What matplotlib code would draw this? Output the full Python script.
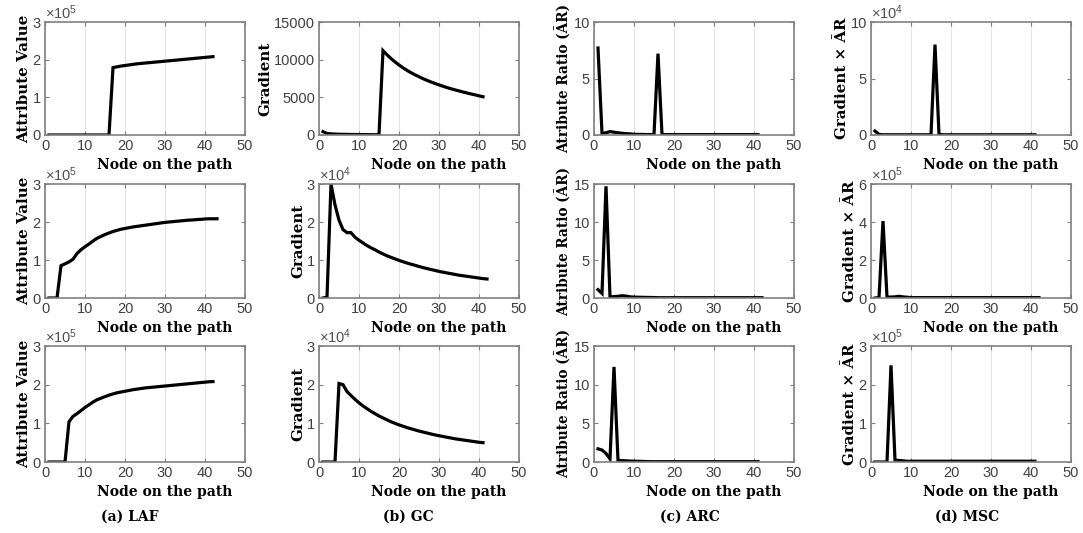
import numpy as np
import matplotlib.pyplot as plt

plt.rcParams['font.family'] = ['Liberation Sans', 'DejaVu Sans']
plt.rcParams['mathtext.fontset'] = 'custom'
plt.rcParams['mathtext.rm'] = 'Liberation Sans'
plt.rcParams['mathtext.it'] = 'Liberation Sans:italic'

# values, in the units shown on each y axis
# row 1
laf_1 = [0.0] * 16 + [1.79, 1.81, 1.83, 1.845, 1.86, 1.875, 1.89, 1.90, 1.91,
                      1.92, 1.93, 1.94, 1.95, 1.96, 1.97, 1.98, 1.99, 2.0,
                      2.01, 2.02, 2.03, 2.04, 2.05, 2.06, 2.07, 2.08]
gc_1 = [450, 200, 150, 120, 100, 90, 80, 70, 60, 55, 50, 45, 40, 35, 30,
        11200, 10650, 10150, 9700, 9300, 8920, 8580, 8270, 7990, 7730, 7480,
        7250, 7040, 6840, 6650, 6470, 6300, 6140, 5990, 5850, 5710, 5580, 5450,
        5330, 5200, 5080]
arc_1 = [7.7, 0.15, 0.2, 0.3, 0.25, 0.2, 0.15, 0.12, 0.1, 0.06, 0.05, 0.05,
         0.04, 0.04, 0.04, 7.2, 0.05] + [0.03] * 24
msc_1 = [0.35, 0.05] + [0.02] * 13 + [8.0, 0.05] + [0.02] * 24

# row 2
laf_2 = [0.0, 0.0, 0.0, 0.85, 0.9, 0.95, 1.02, 1.17, 1.27, 1.35, 1.42, 1.5,
         1.57, 1.62, 1.67, 1.71, 1.75, 1.78, 1.81, 1.83, 1.85, 1.87, 1.885,
         1.9, 1.915, 1.93, 1.945, 1.96, 1.975, 1.99, 2.0, 2.01, 2.02, 2.03,
         2.04, 2.05, 2.055, 2.065, 2.07, 2.08, 2.085, 2.085, 2.085]
gc_2 = [0.0, 0.02, 3.0, 2.45, 2.05, 1.8, 1.72, 1.72, 1.6, 1.52, 1.45, 1.38,
        1.32, 1.27, 1.21, 1.16, 1.11, 1.07, 1.03, 0.99, 0.955, 0.92, 0.89,
        0.86, 0.83, 0.8, 0.775, 0.75, 0.725, 0.7, 0.68, 0.66, 0.64, 0.62,
        0.6, 0.585, 0.57, 0.555, 0.54, 0.525, 0.51, 0.5]
arc_2 = [1.1, 0.6, 14.7, 0.15, 0.18, 0.22, 0.3, 0.25, 0.15, 0.12, 0.1, 0.09,
         0.08, 0.07, 0.06] + [0.04] * 27
msc_2 = [0.0, 0.02, 4.05, 0.05, 0.05, 0.06, 0.09, 0.06, 0.04] + [0.02] * 33

# row 3
laf_3 = [0.0] * 5 + [1.04, 1.18, 1.25, 1.33, 1.41, 1.48, 1.55, 1.61, 1.65,
                     1.69, 1.73, 1.76, 1.79, 1.81, 1.83, 1.85, 1.87, 1.885,
                     1.90, 1.915, 1.925, 1.935, 1.945, 1.955, 1.965, 1.975,
                     1.985, 1.995, 2.005, 2.015, 2.025, 2.035, 2.045, 2.055,
                     2.065, 2.075, 2.08]
gc_3 = [0.0] * 4 + [2.03, 2.0, 1.82, 1.72, 1.62, 1.53, 1.45, 1.38, 1.31, 1.25,
                    1.19, 1.14, 1.09, 1.04, 1.0, 0.96, 0.925, 0.89, 0.86, 0.83,
                    0.8, 0.775, 0.75, 0.725, 0.7, 0.68, 0.66, 0.64, 0.62, 0.6,
                    0.585, 0.57, 0.555, 0.54, 0.525, 0.51, 0.5]
arc_3 = [1.7, 1.55, 1.1, 0.4, 12.3, 0.2, 0.18, 0.15, 0.12, 0.1, 0.09, 0.08,
         0.06] + [0.04] * 28
msc_3 = [0.0] * 4 + [2.5, 0.05, 0.04, 0.03] + [0.02] * 33

rows = [[laf_1, gc_1, arc_1, msc_1],
        [laf_2, gc_2, arc_2, msc_2],
        [laf_3, gc_3, arc_3, msc_3]]

ylabels = ['Attribute Value', 'Gradient', 'Atribute Ratio (ĀR)', 'Gradient × ĀR']
ylabel_size = [10.8, 10.8, 9.8, 10.8]
ylims = [[3, 15000, 10, 10], [3, 3, 15, 6], [3, 3, 15, 3]]
ysteps = [[1, 5000, 5, 5], [1, 1, 5, 2], [1, 1, 5, 1]]
yexp = [[5, None, None, 4], [5, 4, None, 5], [5, 4, None, 5]]
captions = ['(a) LAF', '(b) GC', '(c) ARC', '(d) MSC']

W, H = 1083, 533
col_left = [45, 319, 594, 871]
col_w = 200
row_top = [22, 184, 346]
row_h = [113, 114, 116]

fig = plt.figure(figsize=(W / 100, H / 100), dpi=100)
serif = dict(family='DejaVu Serif', weight='bold', size=10)
edge = '#808080'

for r in range(3):
    for c in range(4):
        ax = fig.add_axes([col_left[c] / W, (H - row_top[r] - row_h[r]) / H,
                           col_w / W, row_h[r] / H])
        y = np.array(rows[r][c], dtype=float)
        x = np.arange(1, len(y) + 1)
        ax.plot(x, y, color='black', lw=2.3, solid_joinstyle='miter')
        ax.set_xlim(0, 50)
        ax.set_ylim(0, ylims[r][c])
        ax.set_xticks(np.arange(0, 51, 10))
        ax.set_yticks(np.arange(0, ylims[r][c] + 1e-9, ysteps[r][c]))
        ax.xaxis.grid(True, color='#e4e4e4', lw=0.8)
        ax.set_axisbelow(True)
        for s in ax.spines.values():
            s.set_color(edge)
            s.set_linewidth(1.2)
        ax.tick_params(direction='in', top=True, right=True, length=3,
                       color=edge, labelcolor='#404040', labelsize=10.5, pad=3)
        ax.set_xlabel('Node on the path', fontdict=serif)
        ax.xaxis.set_label_coords(0.6, -0.2)
        ax.set_ylabel(ylabels[c], family='DejaVu Serif', weight='bold',
                      size=ylabel_size[c], labelpad=1)
        if yexp[r][c] is not None:
            ax.text(0.0, 1.0, r'$\times10^{%d}$' % yexp[r][c],
                    transform=ax.transAxes, ha='left', va='bottom',
                    fontsize=10.5, color='#505050')

cap_x = [130, 408, 690, 967]
for cx, t in zip(cap_x, captions):
    fig.text(cx / W, 1 - 517 / H, t, ha='center', va='center',
             family='DejaVu Serif', weight='bold', size=10)

fig.savefig('out.png', dpi=100)
